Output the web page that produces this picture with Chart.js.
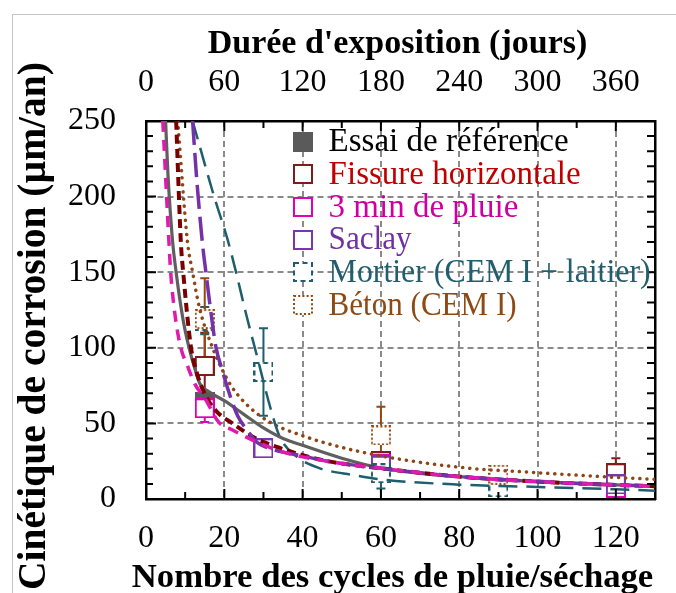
<!DOCTYPE html>
<html><head><meta charset="utf-8">
<script src="https://cdn.jsdelivr.net/npm/chart.js@4.4.0/dist/chart.umd.min.js"></script>
<style>
html,body{margin:0;padding:0;background:#fff;overflow:hidden;}
#wrap{position:relative;width:676px;height:593px;overflow:hidden;}
#frame{position:absolute;left:12px;top:14px;width:720px;height:720px;border-left:1.5px solid #c4c4c4;border-top:1.5px solid #c4c4c4;}
canvas{position:absolute;left:0;top:0;}
</style></head><body>
<div id="wrap"><div id="frame"></div><canvas id="c" width="676" height="593"></canvas></div>
<script>
// ---------- tick values / labels ----------
const xTickValues   = [0,10,20,30,40,50,60,70,80,90,100,110,120,130];
const xTickLabels   = [0,20,40,60,80,100,120];
const xGridValues   = [20,40,60,80,100,120];
const topTickValues = [0,30,60,90,120,150,180,210,240,270,300,330,360,390];
const topTickLabels = [0,60,120,180,240,300,360];
const yTickValues   = [0,10,20,30,40,50,60,70,80,90,100,110,120,130,140,150,160,170,180,190,200,210,220,230,240,250];
const yTickLabels   = [0,50,100,150,200,250];
const yGridValues   = [50,100,150,200];

// ---------- axis titles ----------
const xTitle   = 'Nombre des cycles de pluie/séchage';
const topTitle = "Durée d'exposition (jours)";
const yTitle   = 'Cinétique de corrosion (µm/an)';

// ---------- fitted curves ----------
const refCurveX     = [5.0, 5.6, 6.8, 7.7, 8.7, 9.8, 11.1, 12.5, 13.8, 16, 20, 25, 30, 35, 40, 50, 60, 70, 80, 90, 100, 110, 120, 130];
const refCurveY     = [250, 215, 170, 150, 131, 114, 99, 86, 76, 71, 65, 56, 47, 40, 35.5, 27, 20.5, 17, 14.8, 13, 11.5, 10.3, 9.3, 8.5];
const fissCurveX    = [7.7, 8.9, 9.5, 11.5, 12.8, 14.9, 18, 22.1, 28.1, 33.2, 40, 47, 60, 80, 100, 120, 130];
const fissCurveY    = [250, 170, 150, 100, 85, 70, 58, 50, 40, 34.6, 29, 24.7, 20.3, 14.8, 11.5, 9.3, 8.5];
const pluieCurveX   = [4.3, 5.9, 6.3, 7.5, 8.9, 10.6, 12.5, 15.3, 18.5, 22.1, 27.2, 35, 47, 60, 80, 100, 120, 130];
const pluieCurveY   = [250, 168, 150, 120, 100, 88, 76, 65.5, 51, 45.6, 39, 31, 24.7, 20.3, 14.8, 11.5, 9.3, 8.5];
const saclayCurveX  = [11.9, 13, 14.5, 15.3, 16.5, 17.9, 19.5, 21, 23.4, 26, 28.1, 31.5, 40, 47, 60, 80, 100, 120, 130];
const saclayCurveY  = [250, 210, 167, 150, 125, 100, 85, 72, 55, 45, 38, 33.5, 28.5, 24.7, 20.3, 14.8, 11.5, 9.3, 8.5];
const mortierCurveX = [11.9, 17.4, 20.9, 23, 25.5, 28.5, 31.7, 34.2, 38.5, 44.4, 52.9, 60, 80, 100, 120, 130];
const mortierCurveY = [250, 200, 171, 150, 123, 93, 61, 41, 28, 20.3, 15.9, 13, 9.5, 8, 6.4, 5.5];
const betonCurveX   = [8.1, 10.6, 11.9, 13.6, 17, 19.1, 21.7, 25.5, 31.5, 39.8, 48.7, 60, 80, 100, 120, 130];
const betonCurveY   = [250, 170, 150, 127, 100, 87.5, 75, 63, 51, 42, 35, 28.5, 21, 17.4, 14.3, 13];

// ---------- measured points with error bars ----------
const refPtsX     = [15];          const refPtsY     = [64];            const refErr     = [0];
const fissPtsX    = [15, 60, 120]; const fissPtsY    = [88, 25, 17];    const fissErr    = [22, 0, 10];
const pluiePtsX   = [15, 60, 120]; const pluiePtsY   = [60, 23, 7.3];   const pluieErr   = [9, 0, 0];
const saclayPtsX  = [30, 60, 120]; const saclayPtsY  = [33.5, 22, 9.6]; const saclayErr  = [0, 0, 0];
const mortierPtsX = [15, 30, 60, 90]; const mortierPtsY = [118, 84, 17, 7.7]; const mortierErr = [9, 29, 10, 0];
const betonPtsX   = [15, 60, 90];  const betonPtsY   = [119, 42, 16];   const betonErr   = [27, 19, 0];

const seriesNames = ['Essai de référence','Fissure horizontale','3 min de pluie','Saclay','Mortier (CEM I + laitier)','Béton (CEM I)'];

// ---------- styles ----------
const FONT = "'Liberation Serif','Times New Roman',serif";
const C = {
  ref:    {line:'#5f5f5f', mark:'#5a5a5a', text:'#000000'},
  fiss:   {line:'#7a0000', mark:'#7f1d1d', text:'#c00000'},
  pluie:  {line:'#e01aae', mark:'#e000b8', text:'#cc00a0'},
  saclay: {line:'#7431a8', mark:'#7a36b0', text:'#7030a0'},
  mortier:{line:'#1f5e6c', mark:'#1f5e6c', text:'#215f6e'},
  beton:  {line:'#8d4516', mark:'#94470f', text:'#8f4a14'}
};

function squareImg(stroke, fill, dash) {
  const s = 20, cv = document.createElement('canvas');
  cv.width = s; cv.height = s;
  const g = cv.getContext('2d');
  if (fill) { g.fillStyle = fill; g.fillRect(0, 0, s, s); }
  if (stroke) {
    g.strokeStyle = stroke; g.lineWidth = 2;
    if (dash) g.setLineDash(dash);
    g.strokeRect(1, 1, s - 2, s - 2);
  }
  return cv;
}
const IMG = {
  ref: squareImg(null, C.ref.mark, null),
  fiss: squareImg(C.fiss.mark, '#fff', null),
  pluie: squareImg(C.pluie.mark, '#fff', null),
  saclay: squareImg(C.saclay.mark, '#fff', null),
  mortier: squareImg(C.mortier.mark, '#fff', [5, 3.5]),
  beton: squareImg(C.beton.mark, '#fff', [2, 2.2])
};

const zip = (xs, ys) => xs.map((x, i) => ({x, y: ys[i]}));

function curve(xs, ys, color, width, dash, cap, order) {
  return {type:'scatter', showLine:true, data:zip(xs, ys), borderColor:color, backgroundColor:color,
    borderWidth:width, borderDash:dash, borderCapStyle:cap || 'butt', pointRadius:0, pointHoverRadius:0,
    cubicInterpolationMode:'monotone', order, xAxisID:'x', yAxisID:'y'};
}
function marks(xs, ys, img, order) {
  return {type:'scatter', showLine:false, data:zip(xs, ys), pointStyle:img, pointRadius:10,
    pointHoverRadius:10, order, xAxisID:'x', yAxisID:'y', clip:false};
}

const datasets = [
  curve(pluieCurveX,  pluieCurveY,  C.pluie.line,  3.5, [11, 8], 'butt', 1),
  curve(saclayCurveX, saclayCurveY, C.saclay.line, 3.5, [24, 8], 'butt', 2),
  curve(fissCurveX,   fissCurveY,   C.fiss.line,   4,   [9, 5],  'butt', 3),
  curve(refCurveX,    refCurveY,    C.ref.line,    3.2, [],      'butt', 4),
  curve(mortierCurveX,mortierCurveY,C.mortier.line,2.5, [19, 9], 'butt', 5),
  curve(betonCurveX,  betonCurveY,  C.beton.line,  3.5, [0.1, 7], 'round', 6),
  marks(refPtsX,     refPtsY,     IMG.ref,     16),
  marks(fissPtsX,    fissPtsY,    IMG.fiss,    15),
  marks(pluiePtsX,   pluiePtsY,   IMG.pluie,   14),
  marks(saclayPtsX,  saclayPtsY,  IMG.saclay,  13),
  marks(mortierPtsX, mortierPtsY, IMG.mortier, 12),
  marks(betonPtsX,   betonPtsY,   IMG.beton,   11)
];

const errorSets = [
  {xs:refPtsX, ys:refPtsY, err:refErr, color:C.ref.mark},
  {xs:fissPtsX, ys:fissPtsY, err:fissErr, color:C.fiss.mark},
  {xs:pluiePtsX, ys:pluiePtsY, err:pluieErr, color:C.pluie.mark},
  {xs:saclayPtsX, ys:saclayPtsY, err:saclayErr, color:C.saclay.mark},
  {xs:mortierPtsX, ys:mortierPtsY, err:mortierErr, color:C.mortier.mark},
  {xs:betonPtsX, ys:betonPtsY, err:betonErr, color:C.beton.mark}
];

const errorBarPlugin = {
  id:'errorBars',
  beforeDatasetsDraw(chart) {
    const {ctx, scales:{x, y}} = chart;
    ctx.save(); ctx.lineWidth = 2;
    errorSets.forEach(s => s.xs.forEach((xv, i) => {
      const e = s.err[i]; if (!e) return;
      const px = x.getPixelForValue(xv), y1 = y.getPixelForValue(s.ys[i] + e), y2 = y.getPixelForValue(s.ys[i] - e);
      ctx.strokeStyle = s.color;
      ctx.beginPath();
      ctx.moveTo(px, y1); ctx.lineTo(px, y2);
      ctx.moveTo(px - 4.5, y1); ctx.lineTo(px + 4.5, y1);
      ctx.moveTo(px - 4.5, y2); ctx.lineTo(px + 4.5, y2);
      ctx.stroke();
    }));
    ctx.restore();
  }
};

const innerTicksPlugin = {
  id:'innerTicks',
  afterDatasetsDraw(chart) {
    const {ctx, chartArea:a, scales} = chart;
    ctx.save(); ctx.strokeStyle = '#000'; ctx.lineWidth = 2;
    ctx.beginPath();
    xTickValues.forEach(v => {
      const p = scales.x.getPixelForValue(v), L = xTickLabels.includes(v) ? 10 : 7;
      ctx.moveTo(p, a.bottom); ctx.lineTo(p, a.bottom - L);
    });
    topTickValues.forEach(v => {
      const p = scales.xTop.getPixelForValue(v), L = topTickLabels.includes(v) ? 10 : 7;
      ctx.moveTo(p, a.top); ctx.lineTo(p, a.top + L);
    });
    yTickValues.forEach(v => {
      const p = scales.y.getPixelForValue(v), L = yTickLabels.includes(v) ? 10 : 7;
      ctx.moveTo(a.left, p); ctx.lineTo(a.left + L, p);
      const p2 = scales.yRight.getPixelForValue(v);
      ctx.moveTo(a.right, p2); ctx.lineTo(a.right - 8, p2);
    });
    ctx.stroke();
    ctx.restore();
  }
};

const titlesPlugin = {
  id:'axisTitles',
  afterDraw(chart) {
    const {ctx} = chart;
    ctx.save();
    ctx.fillStyle = '#000';
    ctx.textAlign = 'center'; ctx.textBaseline = 'middle';
    ctx.font = 'bold 34px ' + FONT;
    ctx.fillText(topTitle, 397.5, 44.6);
    ctx.font = 'bold 34.7px ' + FONT;
    ctx.fillText(xTitle, 392.5, 578.5);
    ctx.translate(35, 326);
    ctx.rotate(-Math.PI / 2);
    ctx.font = 'bold 39.5px ' + FONT;
    ctx.fillText(yTitle, 0, 0);
    ctx.restore();
  }
};

const legendItems = [
  {img:IMG.ref, color:C.ref.text, maxW:244},
  {img:IMG.fiss, color:C.fiss.text, maxW:260},
  {img:IMG.pluie, color:C.pluie.text, maxW:192},
  {img:IMG.saclay, color:C.saclay.text, maxW:83},
  {img:IMG.mortier, color:C.mortier.text, maxW:322},
  {img:IMG.beton, color:C.beton.text, maxW:188}
];
const legendPlugin = {
  id:'innerLegend',
  afterDraw(chart) {
    const {ctx, scales:{x}} = chart;
    const sx = x.getPixelForValue(40);
    ctx.save();
    ctx.font = '33px ' + FONT;
    ctx.textBaseline = 'middle'; ctx.textAlign = 'left';
    legendItems.forEach((it, i) => {
      const cy = 141.5 + i * 32.7;
      ctx.drawImage(it.img, Math.round(sx - 10), Math.round(cy - 10));
      ctx.fillStyle = it.color;
      ctx.fillText(seriesNames[i], sx + 26, cy + 1, it.maxW);
    });
    ctx.restore();
  }
};

const tickFont = {family:FONT, size:32};
const borderOpt = {display:true, color:'#000', width:2.5, dash:[6, 4]};

new Chart(document.getElementById('c'), {
  type:'scatter',
  data:{datasets},
  options:{
    responsive:false, animation:false, devicePixelRatio:1,
    layout:{padding:0},
    events:[],
    plugins:{legend:{display:false}, tooltip:{enabled:false}},
    scales:{
      x:{type:'linear', position:'bottom', min:0, max:130,
        afterFit:s => { s.height = 94; },
        afterBuildTicks:s => { s.ticks = xTickValues.map(v => ({value:v})); },
        ticks:{autoSkip:false, maxRotation:0, padding:20, color:'#000', font:tickFont,
          callback:v => xTickLabels.includes(v) ? String(v) : ''},
        grid:{drawTicks:false, lineWidth:2, color:c => (c.tick && xGridValues.includes(c.tick.value)) ? '#8a8a8a' : 'rgba(0,0,0,0)'},
        border:borderOpt,
        title:{display:false}},
      xTop:{type:'linear', position:'top', min:0, max:390,
        afterFit:s => { s.height = 121; },
        afterBuildTicks:s => { s.ticks = topTickValues.map(v => ({value:v})); },
        ticks:{autoSkip:false, maxRotation:0, padding:19, color:'#000', font:tickFont,
          callback:v => topTickLabels.includes(v) ? String(v) : ''},
        grid:{drawOnChartArea:false, drawTicks:false},
        border:{display:true, color:'#000', width:2.5},
        title:{display:false}},
      y:{type:'linear', position:'left', min:0, max:250,
        afterFit:s => { s.width = 146; },
        afterBuildTicks:s => { s.ticks = yTickValues.map(v => ({value:v})); },
        ticks:{autoSkip:false, padding:30, color:'#000', font:tickFont,
          callback:v => yTickLabels.includes(v) ? String(v) : ''},
        grid:{drawTicks:false, lineWidth:2, color:c => (c.tick && yGridValues.includes(c.tick.value)) ? '#8a8a8a' : 'rgba(0,0,0,0)'},
        border:borderOpt,
        title:{display:false}},
      yRight:{type:'linear', position:'right', min:0, max:250,
        afterFit:s => { s.width = 21; },
        ticks:{display:false},
        grid:{drawOnChartArea:false, drawTicks:false},
        border:{display:true, color:'#000', width:2.5}}
    }
  },
  plugins:[errorBarPlugin, innerTicksPlugin, titlesPlugin, legendPlugin]
});
</script>
</body></html>
